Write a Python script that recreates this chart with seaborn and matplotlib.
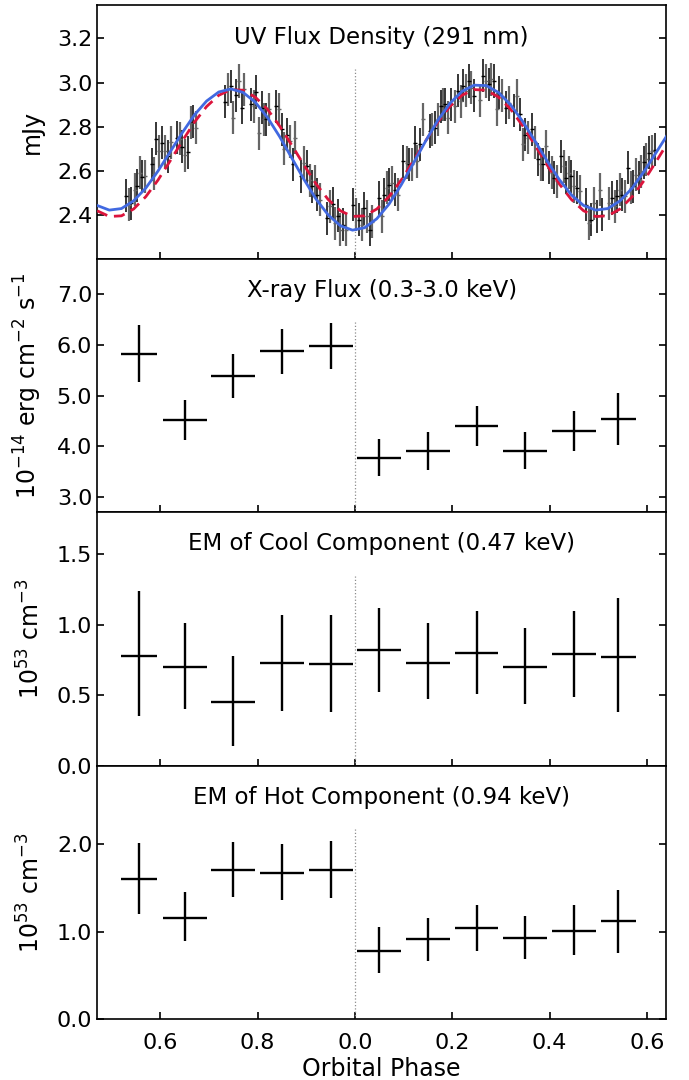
import numpy as np
import pandas as pd
import seaborn as sns
import matplotlib.pyplot as plt

# UV light curve (291 nm), phase unwrapped past 1.0
uv_phase = [0.529, 0.535, 0.540, 0.547, 0.552, 0.558, 0.563, 0.569, 0.583, 0.586,
            0.592, 0.598, 0.604, 0.609, 0.616, 0.621, 0.634, 0.640, 0.645, 0.651,
            0.656, 0.662, 0.668, 0.673, 0.732, 0.739, 0.745, 0.750, 0.756, 0.761,
            0.767, 0.772, 0.787, 0.792, 0.797, 0.802, 0.808, 0.813, 0.818, 0.824,
            0.838, 0.843, 0.849, 0.855, 0.861, 0.866, 0.872, 0.877, 0.890, 0.896,
            0.901, 0.907, 0.912, 0.918, 0.923, 0.929, 0.943, 0.948, 0.954, 0.960,
            0.965, 0.970, 0.976, 0.981, 0.996, 1.003, 1.008, 1.014, 1.019, 1.025,
            1.030, 1.036, 1.049, 1.055, 1.060, 1.066, 1.071, 1.077, 1.082, 1.088,
            1.099, 1.106, 1.112, 1.117, 1.123, 1.128, 1.134, 1.139, 1.154, 1.159,
            1.164, 1.170, 1.176, 1.181, 1.186, 1.192, 1.197, 1.206, 1.212, 1.217,
            1.223, 1.228, 1.234, 1.239, 1.245, 1.258, 1.264, 1.269, 1.275, 1.280,
            1.286, 1.291, 1.297, 1.302, 1.311, 1.316, 1.327, 1.334, 1.339, 1.345,
            1.350, 1.356, 1.365, 1.370, 1.376, 1.382, 1.387, 1.393, 1.399, 1.405,
            1.410, 1.415, 1.423, 1.429, 1.434, 1.440, 1.445, 1.450, 1.456, 1.462,
            1.475, 1.481, 1.486, 1.492, 1.497, 1.503, 1.508, 1.523, 1.528, 1.534,
            1.539, 1.544, 1.550, 1.555, 1.561, 1.567, 1.572, 1.577, 1.583, 1.589,
            1.594, 1.599, 1.605, 1.610, 1.616]
uv_flux = [2.487, 2.446, 2.453, 2.514, 2.532, 2.590, 2.572, 2.575, 2.628, 2.587,
           2.745, 2.688, 2.727, 2.688, 2.666, 2.729, 2.749, 2.745, 2.708, 2.669,
           2.684, 2.818, 2.821, 2.795, 2.912, 2.969, 2.982, 2.841, 2.942, 3.007,
           2.886, 2.969, 2.901, 2.893, 2.957, 2.769, 2.886, 2.833, 2.833, 2.878,
           2.893, 2.878, 2.787, 2.699, 2.764, 2.734, 2.628, 2.749, 2.575, 2.636,
           2.620, 2.556, 2.529, 2.552, 2.491, 2.468, 2.385, 2.438, 2.450, 2.362,
           2.395, 2.332, 2.354, 2.332, 2.446, 2.400, 2.377, 2.354, 2.430, 2.392,
           2.332, 2.369, 2.476, 2.392, 2.491, 2.522, 2.537, 2.544, 2.514, 2.491,
           2.643, 2.636, 2.628, 2.628, 2.727, 2.643, 2.719, 2.833, 2.780, 2.787,
           2.795, 2.833, 2.893, 2.901, 2.901, 2.841, 2.901, 2.893, 2.962, 2.916,
           2.985, 2.962, 3.007, 2.977, 2.939, 2.919, 3.030, 3.007, 2.992, 3.015,
           3.007, 2.878, 2.954, 2.939, 2.886, 2.909, 2.871, 2.939, 2.856, 2.719,
           2.764, 2.749, 2.787, 2.729, 2.651, 2.628, 2.628, 2.711, 2.613, 2.590,
           2.567, 2.552, 2.666, 2.620, 2.567, 2.590, 2.575, 2.529, 2.522, 2.506,
           2.446, 2.362, 2.377, 2.453, 2.392, 2.514, 2.400, 2.453, 2.476, 2.438,
           2.483, 2.514, 2.491, 2.483, 2.613, 2.522, 2.529, 2.582, 2.567, 2.597,
           2.638, 2.651, 2.681, 2.688, 2.696]
uv_err = 0.075

# model curves
model_phase = [0.470, 0.495, 0.520, 0.545, 0.570, 0.595, 0.620, 0.645, 0.670, 0.695,
               0.720, 0.745, 0.770, 0.795, 0.820, 0.845, 0.870, 0.895, 0.920, 0.945,
               0.970, 0.995, 1.020, 1.045, 1.070, 1.095, 1.120, 1.145, 1.170, 1.195,
               1.220, 1.245, 1.270, 1.295, 1.320, 1.345, 1.370, 1.395, 1.420, 1.445,
               1.470, 1.495, 1.520, 1.545, 1.570, 1.595, 1.620, 1.645]
model_blue = [2.442, 2.421, 2.428, 2.463, 2.521, 2.598, 2.685, 2.772, 2.853, 2.916,
              2.957, 2.971, 2.955, 2.911, 2.842, 2.755, 2.658, 2.561, 2.471, 2.399,
              2.350, 2.330, 2.341, 2.382, 2.448, 2.535, 2.633, 2.733, 2.827, 2.905,
              2.960, 2.988, 2.986, 2.955, 2.899, 2.823, 2.735, 2.644, 2.560, 2.490,
              2.442, 2.421, 2.428, 2.463, 2.521, 2.598, 2.685, 2.772]
model_red = [2.418, 2.392, 2.395, 2.426, 2.482, 2.557, 2.644, 2.734, 2.820, 2.891,
             2.942, 2.968, 2.965, 2.934, 2.879, 2.803, 2.716, 2.626, 2.540, 2.469,
             2.418, 2.392, 2.395, 2.426, 2.482, 2.557, 2.644, 2.734, 2.820, 2.891,
             2.942, 2.968, 2.965, 2.934, 2.879, 2.803, 2.716, 2.626, 2.540, 2.469,
             2.418, 2.392, 2.395, 2.426, 2.482, 2.557, 2.644, 2.734]

# X-ray phase bins
bin_phase = [0.557, 0.65, 0.75, 0.85, 0.95, 1.05, 1.15, 1.25, 1.35, 1.45, 1.541]
bin_halfwidth = [0.037, 0.045, 0.045, 0.045, 0.045, 0.045, 0.045, 0.045, 0.045, 0.045, 0.036]

xray_flux = [5.82, 4.51, 5.38, 5.88, 5.97, 3.77, 3.90, 4.40, 3.91, 4.30, 4.53]
xray_hi = [6.39, 4.91, 5.82, 6.32, 6.43, 4.14, 4.28, 4.80, 4.28, 4.70, 5.06]
xray_lo = [5.26, 4.13, 4.96, 5.43, 5.53, 3.41, 3.53, 4.01, 3.55, 3.90, 4.03]

cool_em = [0.78, 0.70, 0.45, 0.73, 0.72, 0.82, 0.73, 0.80, 0.70, 0.79, 0.77]
cool_hi = [1.24, 1.01, 0.78, 1.07, 1.07, 1.12, 1.01, 1.10, 0.98, 1.10, 1.19]
cool_lo = [0.35, 0.40, 0.14, 0.39, 0.38, 0.52, 0.47, 0.51, 0.44, 0.49, 0.38]

hot_em = [1.60, 1.16, 1.70, 1.67, 1.71, 0.78, 0.91, 1.04, 0.93, 1.01, 1.12]
hot_hi = [2.01, 1.45, 2.02, 2.00, 2.04, 1.05, 1.16, 1.31, 1.18, 1.30, 1.48]
hot_lo = [1.20, 0.89, 1.40, 1.36, 1.39, 0.53, 0.66, 0.78, 0.69, 0.73, 0.76]

phase_ticks = [0.6, 0.8, 1.0, 1.2, 1.4, 1.6]
phase_ticklabels = ['0.6', '0.8', '0.0', '0.2', '0.4', '0.6']

sns.set_style("ticks")
plt.rcParams['font.family'] = ['DejaVu Sans']
plt.rcParams['font.size'] = 16
plt.rcParams['axes.labelsize'] = 17
plt.rcParams['axes.linewidth'] = 1.2
plt.rcParams['text.color'] = 'black'
plt.rcParams['axes.labelcolor'] = 'black'
plt.rcParams['axes.edgecolor'] = 'black'
plt.rcParams['xtick.color'] = 'black'
plt.rcParams['ytick.color'] = 'black'

fig, axes = plt.subplots(4, 1, figsize=(6.89, 10.8), dpi=100, sharex=True)
fig.subplots_adjust(left=0.141, right=0.967, top=0.995, bottom=0.0565, hspace=0)

# --- UV panel
ax = axes[0]
uv = pd.DataFrame({'phase': uv_phase, 'flux': uv_flux})
even = uv.iloc[::2]
odd = uv.iloc[1::2]
ax.errorbar(odd['phase'], odd['flux'], yerr=uv_err, fmt='_', ms=3, color='0.4',
            ecolor='0.4', elinewidth=1.6, capsize=0, zorder=2)
ax.errorbar(even['phase'], even['flux'], yerr=uv_err, fmt='_', ms=3, color='k',
            ecolor='k', elinewidth=1.1, capsize=0, zorder=2)
sns.lineplot(x=model_phase, y=model_red, ax=ax, color='#DC143C', lw=2,
             linestyle=(0, (4, 2.5)), zorder=3)
sns.lineplot(x=model_phase, y=model_blue, ax=ax, color='#4169E1', lw=2, zorder=4)
ax.set_ylim(2.2, 3.35)
ax.set_yticks([2.4, 2.6, 2.8, 3.0, 3.2])
ax.set_ylabel('mJy', labelpad=9)
ax.text(0.5, 0.875, 'UV Flux Density (291 nm)', transform=ax.transAxes,
        ha='center', va='center', fontsize=16.5)


def cross_panel(ax, vals, lo, hi):
    vals = np.array(vals)
    yerr = [vals - np.array(lo), np.array(hi) - vals]
    ax.errorbar(bin_phase, vals, xerr=bin_halfwidth, yerr=yerr, fmt='none',
                ecolor='k', elinewidth=1.7, capsize=0)


cross_panel(axes[1], xray_flux, xray_lo, xray_hi)
axes[1].set_ylim(2.7, 7.7)
axes[1].set_yticks([3.0, 4.0, 5.0, 6.0, 7.0])
axes[1].set_yticklabels(['3.0', '4.0', '5.0', '6.0', '7.0'])
axes[1].set_ylabel(r'$10^{-14}$ erg cm$^{-2}$ s$^{-1}$', labelpad=9)
axes[1].text(0.5, 0.875, 'X-ray Flux (0.3-3.0 keV)', transform=axes[1].transAxes,
             ha='center', va='center', fontsize=16.5)

cross_panel(axes[2], cool_em, cool_lo, cool_hi)
axes[2].set_ylim(0, 1.8)
axes[2].set_yticks([0.0, 0.5, 1.0, 1.5])
axes[2].set_yticklabels(['0.0', '0.5', '1.0', '1.5'])
axes[2].set_ylabel(r'$10^{53}$ cm$^{-3}$', labelpad=9)
axes[2].text(0.5, 0.875, 'EM of Cool Component (0.47 keV)', transform=axes[2].transAxes,
             ha='center', va='center', fontsize=16.5)

cross_panel(axes[3], hot_em, hot_lo, hot_hi)
axes[3].set_ylim(0, 2.9)
axes[3].set_yticks([0.0, 1.0, 2.0])
axes[3].set_yticklabels(['0.0', '1.0', '2.0'])
axes[3].set_ylabel(r'$10^{53}$ cm$^{-3}$', labelpad=9)
axes[3].text(0.5, 0.875, 'EM of Hot Component (0.94 keV)', transform=axes[3].transAxes,
             ha='center', va='center', fontsize=16.5)

for a in axes:
    a.axvline(1.0, ymax=0.75, color='0.55', ls=':', lw=0.9, zorder=1)
    a.tick_params(direction='in', length=5, width=1.2, right=True, top=False,
                  labelsize=16)
    a.tick_params(axis='x', pad=10)
    for s in a.spines.values():
        s.set_visible(True)

axes[3].set_xlim(0.47, 1.64)
axes[3].set_xticks(phase_ticks)
axes[3].set_xticklabels(phase_ticklabels)
axes[3].set_xlabel('Orbital Phase', labelpad=3)

fig.align_ylabels(axes)
fig.savefig('out.png', dpi=100)
